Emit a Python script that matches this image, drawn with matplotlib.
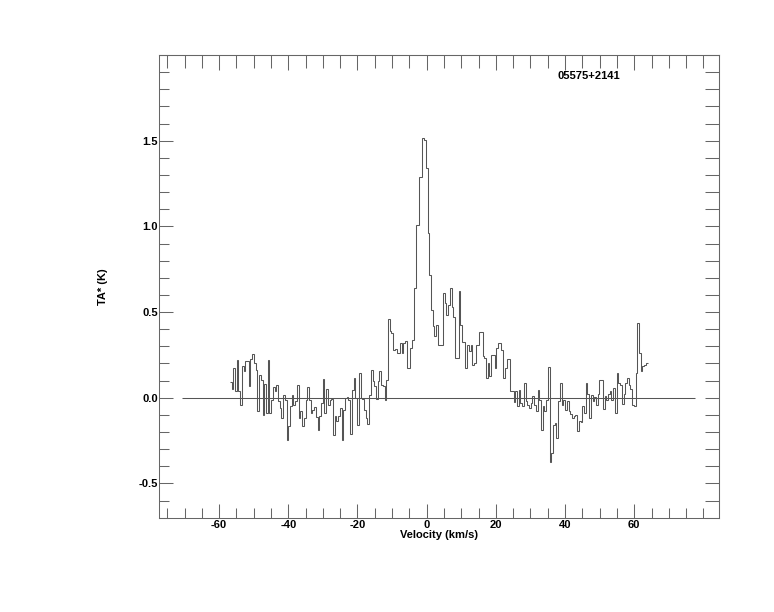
import numpy as np
import matplotlib
matplotlib.use('Agg')
import matplotlib.pyplot as plt
from matplotlib.ticker import MultipleLocator, FixedLocator, FixedFormatter

plt.rcParams['font.family'] = ['Liberation Sans', 'DejaVu Sans']
plt.rcParams['font.weight'] = 'bold'
plt.rcParams['axes.unicode_minus'] = False

# ---- data ----
source_name = '05575+2141'
v_start = -56.9        # km/s, left edge of first channel
chan_width = 0.497     # km/s
zero_line_range = [-70.6, 77.6]

ta_values = [
    0.089, 0.051, 0.173, 0.037, 0.222, 0.037, -0.041, 0.183, 0.154, 0.212,
    0.216, 0.070, 0.225, 0.257, 0.202, 0.163, -0.080, 0.134, 0.105, -0.099,
    0.080, -0.089, 0.222, -0.089, -0.012, 0.062, 0.037, 0.076, -0.021, -0.060,
    -0.119, 0.017, -0.012, -0.245, -0.167, -0.051, 0.017, -0.041, -0.021, 0.076,
    -0.119, -0.080, -0.167, -0.119, -0.012, 0.062, -0.012, -0.089, -0.070, -0.054,
    -0.113, -0.187, -0.109, -0.031, 0.109, -0.089, 0.050, -0.041,
    -0.012, -0.008, -0.216, -0.109, -0.138, -0.109, -0.060, -0.245, -0.070, 0.000,
    0.002, -0.012, -0.210, 0.047, 0.115, 0.000, -0.157, 0.144, 0.000, -0.008,
    -0.070, -0.119, -0.154, 0.015, 0.163, 0.099, 0.070, -0.008, 0.095, 0.154,
    0.076, 0.066, -0.016, 0.105, 0.459, 0.387, 0.377, 0.280, 0.284, 0.260,
    0.260,
    0.319, 0.260, 0.319, 0.330, 0.173, 0.173, 0.290, 0.338, 0.639, 1.009,
    1.009, 1.291, 1.291, 1.514, 1.504, 1.339, 0.960, 0.717, 0.513, 0.416,
    0.358, 0.426, 0.309, 0.309, 0.309, 0.610, 0.552, 0.484, 0.542, 0.639,
    0.532, 0.474, 0.231, 0.231, 0.620,
    0.426, 0.328, 0.328, 0.173, 0.309, 0.270, 0.309, 0.192, 0.202, 0.309,
    0.309, 0.381, 0.381, 0.241, 0.231, 0.115, 0.202, 0.124, 0.251, 0.251,
    0.173, 0.290, 0.319, 0.319, 0.280, 0.115, 0.173, 0.225, 0.225, 0.037,
    0.037, -0.027, 0.037, -0.051, 0.047, -0.031, -0.051, 0.086, -0.021, -0.041,
    -0.060, -0.031, 0.008, -0.041,
    -0.080, 0.047, -0.012, -0.187, -0.051, -0.080, -0.012, 0.179, -0.377, -0.323,
    -0.157, -0.148, -0.235, -0.021, 0.086, -0.041, -0.012, -0.070, -0.021, -0.080,
    -0.093, -0.119, -0.105, -0.099, -0.196, -0.138, -0.143, -0.051, -0.089, 0.086,
    0.019, -0.119, 0.014, -0.021, 0.004, -0.041,
    0.019, 0.105, 0.105, -0.066, 0.012, -0.012, 0.019, 0.037, -0.012, 0.056,
    -0.089, 0.144, 0.086, 0.076, -0.036, 0.019, 0.086, 0.115, 0.076, 0.050,
    -0.041, -0.051, 0.144, 0.435, 0.260, 0.154, 0.183, 0.192, 0.202,
]

x_ticks = [-60, -40, -20, 0, 20, 40, 60]
x_tick_labels = ['-60', '-40', '-20', '0', '20', '40', '60']
y_ticks = [-0.5, 0.0, 0.5, 1.0, 1.5]
y_tick_labels = ['-0.5', '0.0', '0.5', '1.0', '1.5']
x_limits = [-77.3, 84.6]
y_limits = [-0.70, 2.0]

# ---- figure ----
W, H = 774, 612
fig = plt.figure(figsize=(W / 100, H / 100), dpi=100)
L, R, B, T = 159.3, 719.3, 517.7, 55.0
ax = fig.add_axes([L / W, (H - B) / H, (R - L) / W, (B - T) / H])

line_col = '#555555'
frame_col = '#666666'
lw = 0.75

edges = v_start + chan_width * np.arange(len(ta_values) + 1)
ax.stairs(ta_values, edges, baseline=None, color=line_col, linewidth=lw)
ax.hlines(0.0, zero_line_range[0], zero_line_range[1], color=line_col, linewidth=lw)

ax.set_xlim(*x_limits)
ax.set_ylim(*y_limits)

ax.xaxis.set_major_locator(FixedLocator(x_ticks))
ax.xaxis.set_major_formatter(FixedFormatter(x_tick_labels))
ax.xaxis.set_minor_locator(MultipleLocator(5))
ax.yaxis.set_major_locator(FixedLocator(y_ticks))
ax.yaxis.set_major_formatter(FixedFormatter(y_tick_labels))
ax.yaxis.set_minor_locator(MultipleLocator(0.1))

for sp in ax.spines.values():
    sp.set_color(frame_col)
    sp.set_linewidth(lw)

ax.tick_params(which='both', direction='in', color=frame_col, width=lw,
               labelsize=8, labelcolor='black', top=False, right=False)
ax.tick_params(which='major', length=10)
ax.tick_params(which='minor', length=7)
ax.tick_params(axis='y', which='both', pad=1.2)
ax.tick_params(axis='x', which='both', pad=2.0)
for lab in ax.get_xticklabels() + ax.get_yticklabels():
    lab.set_fontweight('bold')

# top and right axes (ticks only)
sx = ax.secondary_xaxis('top')
sx.xaxis.set_major_locator(FixedLocator(x_ticks))
sx.xaxis.set_minor_locator(MultipleLocator(5))
sx.tick_params(which='both', direction='in', color=frame_col, width=lw, labeltop=False)
sx.tick_params(which='major', length=10.5)
sx.tick_params(which='minor', length=9)
sx.spines['top'].set_color(frame_col)
sx.spines['top'].set_linewidth(lw)

sy = ax.secondary_yaxis('right')
sy.yaxis.set_major_locator(FixedLocator(y_ticks))
sy.yaxis.set_minor_locator(MultipleLocator(0.1))
sy.tick_params(which='both', direction='in', color=frame_col, width=lw, labelright=False)
sy.tick_params(which='both', length=10)
sy.spines['right'].set_color(frame_col)
sy.spines['right'].set_linewidth(lw)

ax.set_xlabel('Velocity (km/s)', fontsize=8, fontweight='bold')
ax.xaxis.set_label_coords(0.5, (B - 530.5) / (B - T))
ax.set_ylabel('TA* (K)', fontsize=8, fontweight='bold')
ax.yaxis.set_label_coords((108.5 - L) / (R - L), 0.5)

ax.text((557.3 - L) / (R - L), (B - 76.3) / (B - T), source_name,
        transform=ax.transAxes, fontsize=8, fontweight='bold',
        ha='left', va='center')

fig.savefig('out.png', dpi=100, facecolor='white')
